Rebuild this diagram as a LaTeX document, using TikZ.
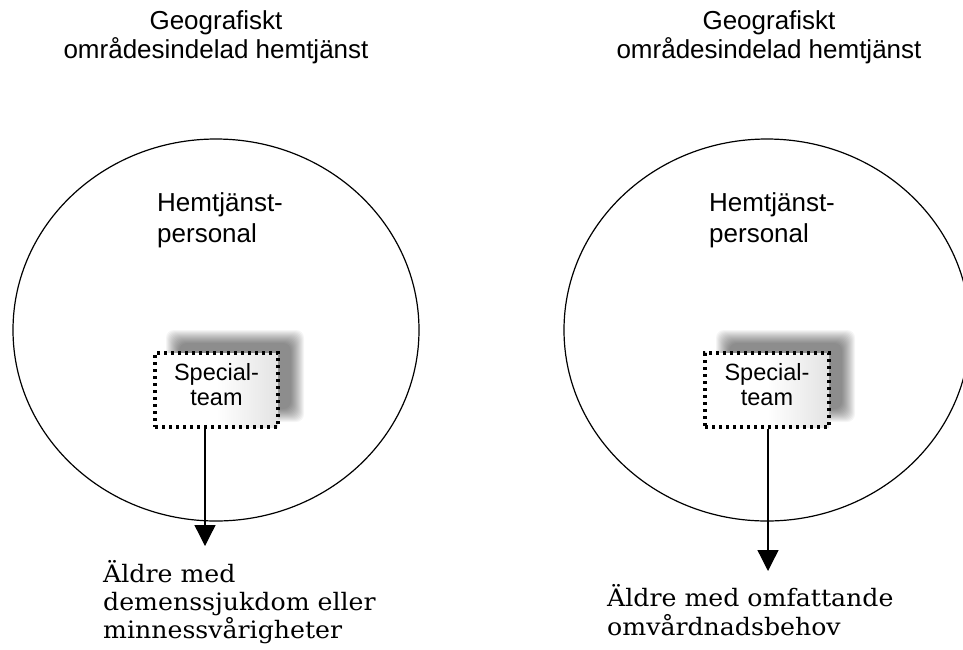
\documentclass[tikz,border=0pt]{standalone}
\usepackage{fontspec}
\setmainfont{DejaVu Serif}
\newfontfamily\sansf{Liberation Sans}
\usetikzlibrary{arrows.meta}
\begin{document}
\begin{tikzpicture}[x=1pt,y=-1pt,
  ring/.style={draw=black, line width=1.2pt},
  titletext/.style={font=\sansf\fontsize{26}{30}\selectfont, anchor=base, inner sep=0},
  stafftext/.style={font=\sansf\fontsize{26}{30}\selectfont, anchor=base west, inner sep=0},
  teamtext/.style={font=\sansf\fontsize{23.5}{26}\selectfont, anchor=base, inner sep=0},
  grouptext/.style={font=\fontsize{24}{28}\selectfont, anchor=base west, inner sep=0},
  teambox/.style={draw=black, line width=3.2pt, dash pattern=on 3.2pt off 3.8pt, minimum width=123pt, minimum height=74pt, inner sep=0},
  link/.style={line width=1.3pt, -{Triangle[width=21pt,length=21pt]}},
  shadowpiece/.style={fill=black, opacity=0.04}
]
\path[fill=white] (0,0) rectangle (963,649);
\useasboundingbox (0,0) rectangle (963,649);
\clip (0,0) rectangle (963,649);

% titles
\node[titletext] (ltitle1) at (216,29) {Geografiskt};
\node[titletext] (ltitle2) at (216,58) {områdesindelad hemtjänst};
\node[titletext] (rtitle1) at (769,29) {Geografiskt};
\node[titletext] (rtitle2) at (769,58) {områdesindelad hemtjänst};

% circles
\draw[ring] (216,330) ellipse [x radius=203, y radius=191];
\draw[ring] (767,330) ellipse [x radius=203, y radius=191];

% staff text
\node[stafftext] (lstaff1) at (157,211) {Hemtjänst-};
\node[stafftext] (lstaff2) at (157,242) {personal};
\node[stafftext] (rstaff1) at (709,211) {Hemtjänst-};
\node[stafftext] (rstaff2) at (709,242) {personal};

% soft shadows
\foreach \i in {0,...,13} {
  \fill[shadowpiece, rounded corners=8pt] (166+\i,330+\i) rectangle (304-\i,422-\i);
  \fill[shadowpiece, rounded corners=8pt] (716+\i,330+\i) rectangle (855-\i,422-\i);
}

% team boxes
\shade[left color=white, right color=gray!22, middle color=white] (155,353) rectangle (278,427);
\shade[left color=white, right color=gray!22, middle color=white] (705,353) rectangle (829,427);
\node[teambox] (lbox) at (216.5,390) {};
\node[teambox, minimum width=124pt] (rbox) at (767,390) {};
\node[teamtext] (lteam1) at (216.5,380) {Special-};
\node[teamtext] (lteam2) at (216.5,405) {team};
\node[teamtext] (rteam1) at (767,380) {Special-};
\node[teamtext] (rteam2) at (767,405) {team};

% arrows
\coordinate (ltip) at (205,546);
\coordinate (rtip) at (768,571);
\draw[link] (lbox.south -| ltip) -- (ltip);
\draw[link] (rbox.south -| rtip) -- (rtip);

% target groups
\node[grouptext] (lgroup1) at (103,582) {\scalebox{1.05}[1]{Äldre med}};
\node[grouptext] (lgroup2) at (103,610) {\scalebox{1.05}[1]{demenssjukdom eller}};
\node[grouptext] (lgroup3) at (103,638) {\scalebox{1.05}[1]{minnessvårigheter}};
\node[grouptext] (rgroup1) at (607,606) {\scalebox{1.05}[1]{Äldre med omfattande}};
\node[grouptext] (rgroup2) at (607,635) {\scalebox{1.05}[1]{omvårdnadsbehov}};
\end{tikzpicture}
\end{document}
